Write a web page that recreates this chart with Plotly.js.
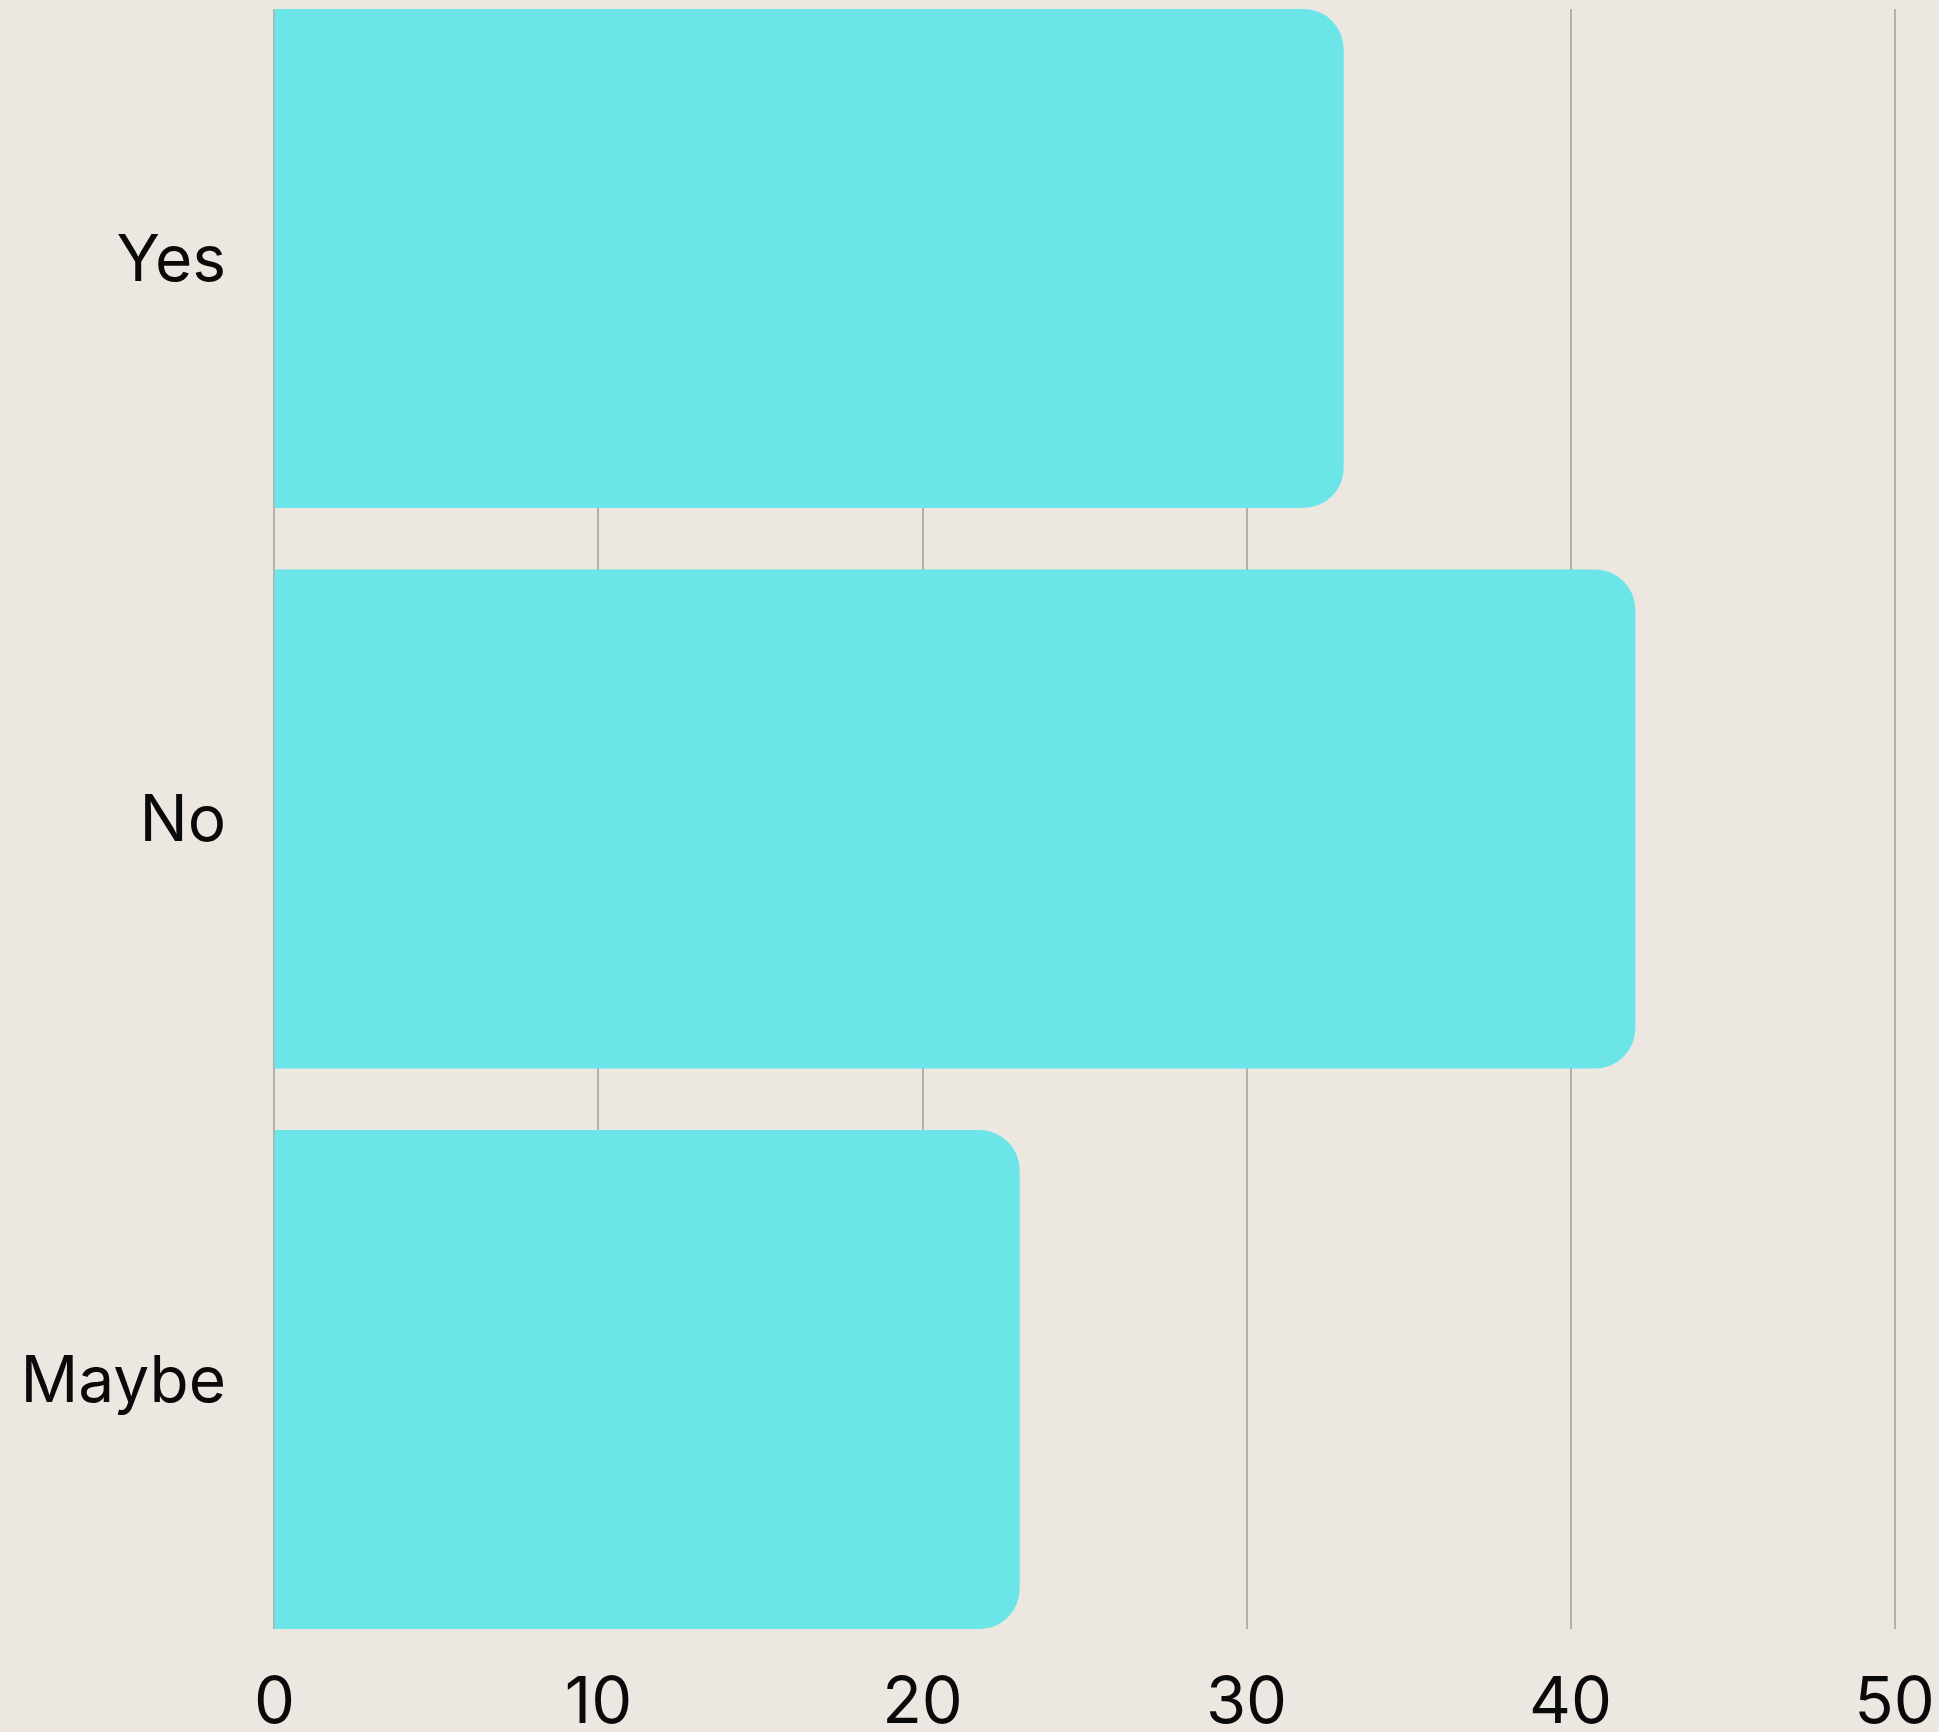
<!DOCTYPE html>
<html>
<head>
<meta charset="utf-8">
<script src="https://cdn.plot.ly/plotly-3.0.1.min.js"></script>
<style>
  html, body { margin: 0; padding: 0; background: #ece7e1; }
  #chart { width: 1939px; height: 1732px; }
</style>
</head>
<body>
<div id="chart"></div>
<script>
const categories = ['Yes', 'No', 'Maybe'];
const values = [33, 42, 23];
const xTicks = [0, 10, 20, 30, 40, 50];

const trace = {
  type: 'bar',
  orientation: 'h',
  y: categories,
  x: values,
  marker: { color: '#6be5e8', cornerradius: 40, line: { width: 0 } },
  hoverinfo: 'skip'
};

const layout = {
  width: 1939,
  height: 1732,
  paper_bgcolor: '#ece7e1',
  plot_bgcolor: '#ece7e1',
  margin: { l: 268, r: 38, t: 9, b: 103, pad: 0 },
  bargap: 0.11,
  showlegend: false,
  font: { family: 'Inter, "Open Sans", sans-serif', color: '#0a0a0a', size: 64 },
  xaxis: {
    range: [-0.2, 50.2],
    tickvals: xTicks,
    ticktext: xTicks.map(String),
    showgrid: true,
    gridcolor: '#b3afab',
    gridwidth: 2,
    zeroline: false,
    showline: false,
    ticks: '',
    ticklabelstandoff: 28,
    tickfont: { size: 65, color: '#0a0a0a' },
    fixedrange: true
  },
  yaxis: {
    type: 'category',
    categoryorder: 'array',
    categoryarray: categories,
    range: [2.445, -0.445],
    showgrid: false,
    zeroline: false,
    showline: false,
    ticks: '',
    ticklabelstandoff: 41,
    tickfont: { size: 64, color: '#0a0a0a' },
    fixedrange: true
  }
};

Plotly.newPlot('chart', [trace], layout, { displayModeBar: false, staticPlot: true });
</script>
</body>
</html>
